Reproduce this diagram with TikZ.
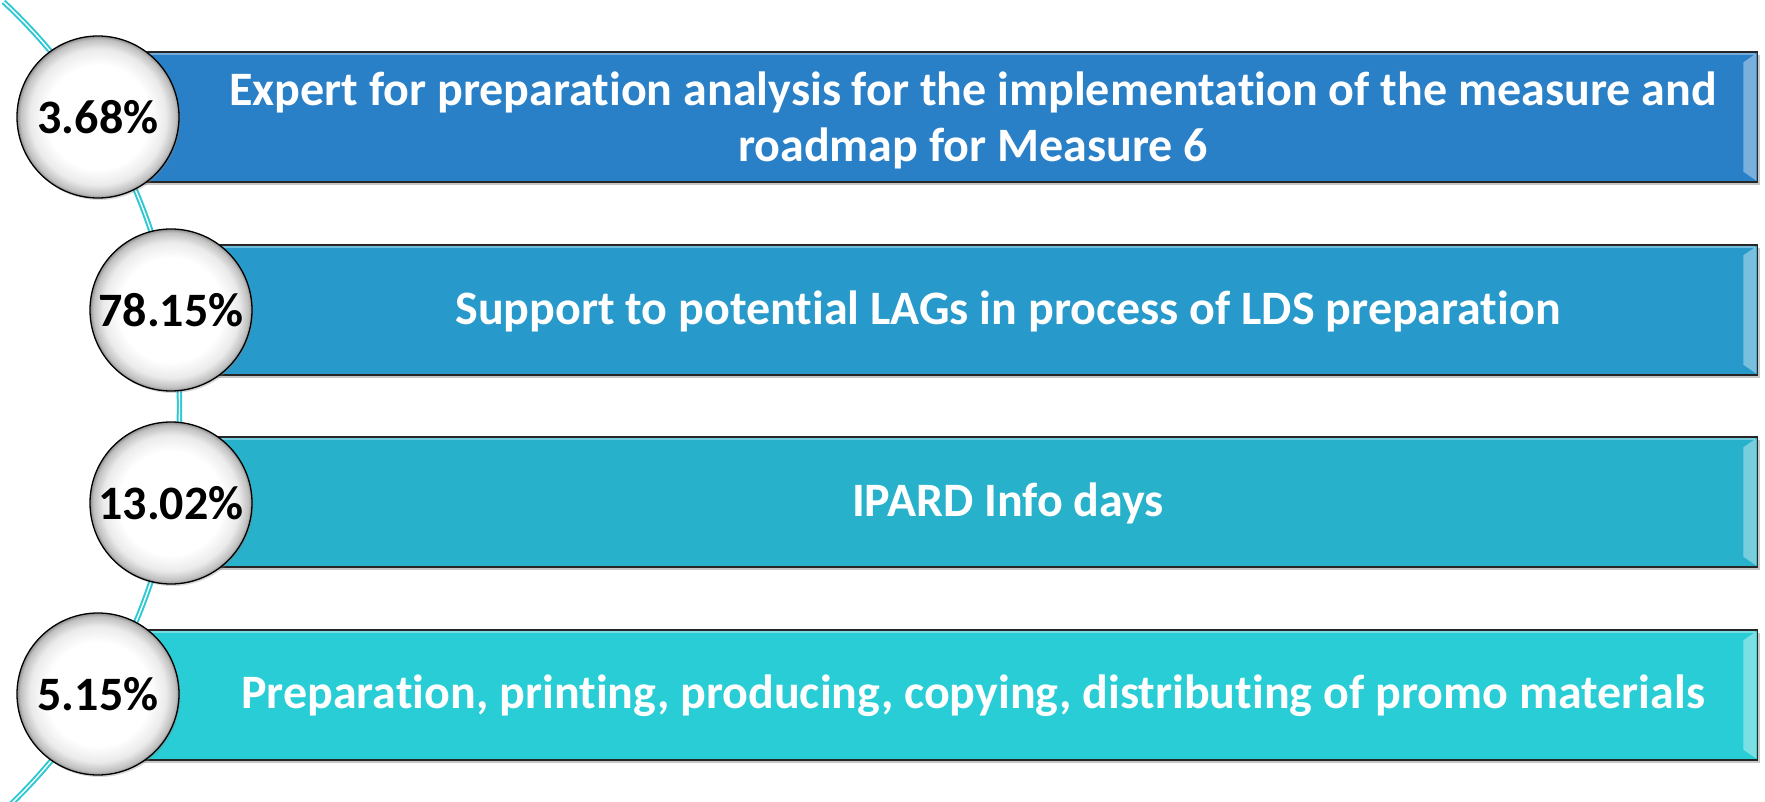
\documentclass[tikz,border=0pt]{standalone}
\usepackage{fontspec}
\setmainfont{Carlito}[Ligatures=NoCommon]
\usetikzlibrary{shadows}
\definecolor{barA}{RGB}{41,128,199}
\definecolor{barB}{RGB}{40,153,203}
\definecolor{barC}{RGB}{40,177,203}
\definecolor{barD}{RGB}{41,205,213}
\definecolor{arcc}{RGB}{45,200,210}
\pgfdeclareradialshading{ballshade}{\pgfpoint{0bp}{0bp}}{color(0bp)=(white); color(16bp)=(white); color(21bp)=(black!8); color(24bp)=(black!25); color(25bp)=(black!45); color(50bp)=(black!45)}
\tikzset{
  bar/.style={draw=black!85, line width=1.3pt, minimum height=130, inner sep=0pt, anchor=west,
    drop shadow={shadow xshift=2pt, shadow yshift=-3pt, opacity=.45}},
  bartext/.style={text=white, font=\bfseries\fontsize{48}{56}\selectfont, align=center, inner sep=0pt},
  ball/.style={circle, minimum size=162, inner sep=0pt, draw=black, line width=1.3pt, shading=ballshade,
    font=\bfseries\fontsize{48}{50}\selectfont, text=black,
    drop shadow={shadow xshift=1.5pt, shadow yshift=-2pt, opacity=.3}},
  arcline/.style={draw=arcc, line width=2pt, double=white, double distance=1.4pt},
  bevel/.style={fill=white, fill opacity=.38},
}
\newcommand{\bevelon}[1]{%
  \path[bevel] ([xshift=-15pt,yshift=-11pt]#1.north east) -- ([xshift=-2pt,yshift=-2pt]#1.north east)
    -- ([xshift=-2pt,yshift=2pt]#1.south east) -- ([xshift=-15pt,yshift=11pt]#1.south east) -- cycle;
  \draw[white, opacity=.35, line width=2pt] ([xshift=3pt,yshift=-3pt]#1.north west) -- ([xshift=-3pt,yshift=-3pt]#1.north east);
}
\begin{document}
\begin{tikzpicture}[x=1pt,y=-1pt]
\useasboundingbox (0,0) rectangle (1765,802);
\coordinate (ac) at (-373.8,406.5);
\draw[arcline] (ac) ++(-47:553.3) arc[start angle=-47, end angle=47, radius=553.3];

\node[bar, fill=barA, minimum width=1659] (b1) at (98,117) {};
\node[bar, fill=barB, minimum width=1586] (b2) at (171,310) {};
\node[bar, fill=barC, minimum width=1586] (b3) at (171,502) {};
\node[bar, fill=barD, minimum width=1659] (b4) at (98,695) {};
\bevelon{b1}\bevelon{b2}\bevelon{b3}\bevelon{b4}

\node[bartext] (t1) at (973,120) {Expert for preparation analysis for the implementation of the measure and\\roadmap for Measure 6};
\node[bartext] (t2) at (1008,311) {Support to potential LAGs in process of LDS preparation};
\node[bartext] (t3) at (1008,503) {IPARD Info days};
\node[bartext] (t4) at (973,696) {Preparation, printing, producing, copying, distributing of promo materials};

\node[ball] (c1) at (98,117) {3.68\%};
\node[ball] (c2) at (171,310) {78.15\%};
\node[ball] (c3) at (171,503) {13.02\%};
\node[ball] (c4) at (98,694) {5.15\%};
\end{tikzpicture}
\end{document}
